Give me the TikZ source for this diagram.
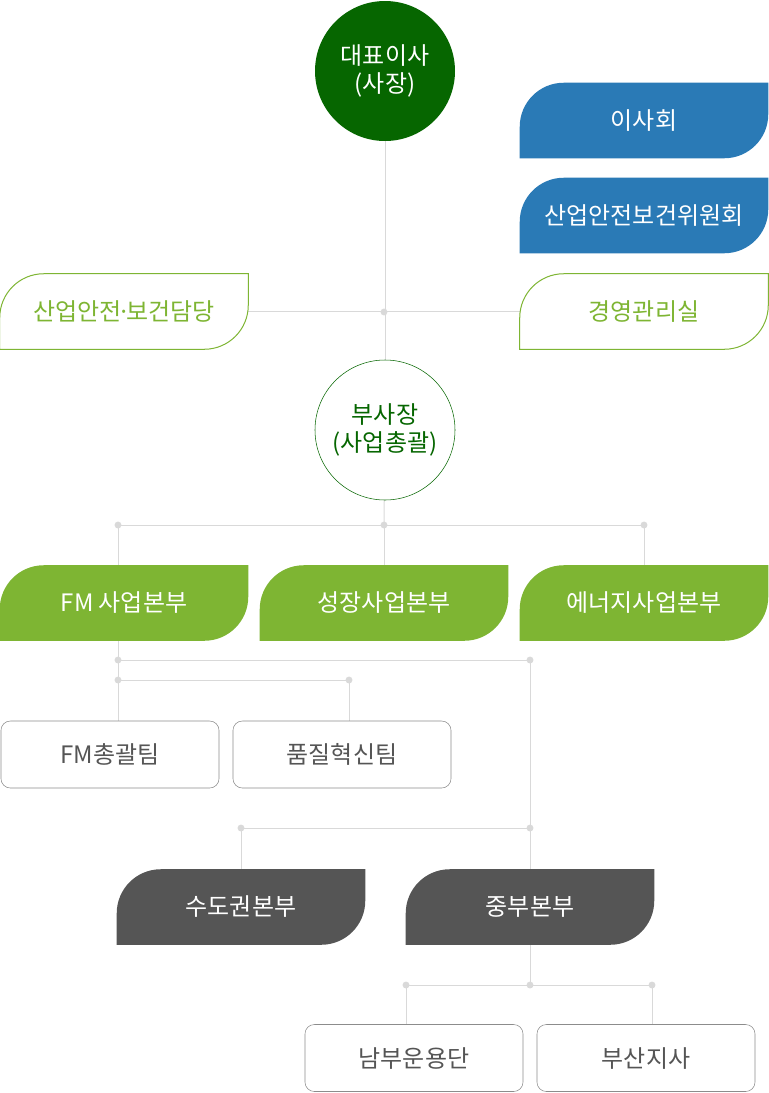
\documentclass[tikz,border=0pt]{standalone}
\usepackage{fontspec}
\setmainfont{Noto Sans CJK KR}
\usetikzlibrary{positioning,backgrounds}

\definecolor{ceogreen}{HTML}{066600}
\definecolor{leafgreen}{HTML}{7EB533}
\definecolor{boardblue}{HTML}{2A7AB6}
\definecolor{hqgray}{HTML}{555555}
\definecolor{boxgray}{HTML}{8C8C8C}
\definecolor{linegray}{HTML}{D9D9D9}

% leaf outline: round top-left and bottom-right corners
\newcommand{\leafpath}[1]{(#1.south west) -- ([yshift=-33pt]#1.north west)
  arc[start angle=180,end angle=90,radius=33pt] -- (#1.north east)
  -- ([yshift=33pt]#1.south east) arc[start angle=0,end angle=-90,radius=33pt] -- cycle}

\tikzset{
  txt/.style={font=\fontsize{18pt}{20.5pt}\selectfont,align=center},
  boss/.style={txt,circle,minimum size=105pt,inner sep=0pt},
  leaf/.style={txt,rectangle,minimum width=186pt,minimum height=56.25pt,inner sep=0pt},
  team/.style={txt,rectangle,rounded corners=7pt,draw=boxgray,fill=white,text=hqgray,
    minimum width=163.5pt,minimum height=50.25pt,inner sep=0pt},
  link/.style={draw=linegray,line width=0.75pt},
  dot/.style={fill=linegray}
}

\begin{document}
\begin{tikzpicture}[x=0.75pt,y=-0.75pt]
  \useasboundingbox (0,0) rectangle (768,1093);

  % top management
  \node[boss,fill=ceogreen,text=white] (ceo) at (385,71) {대표이사\\(사장)};
  \node[boss,draw=ceogreen,fill=white,text=ceogreen] (vp) at (385,430) {부사장\\(사업총괄)};

  \node[leaf,text=white] (board) at (644,120.5) {이사회};
  \node[leaf,text=white] (committee) at (644,215.5) {산업안전보건위원회};
  \node[leaf,text=leafgreen] (mgmt) at (644,311.5) {경영관리실};
  \node[leaf,text=leafgreen] (safety) at (124,311.5) {산업안전{\kern-0.17em·\kern-0.17em}보건담당};

  % business divisions
  \node[leaf,text=white] (fm) at (124,603) {FM 사업본부};
  \node[leaf,text=white] (growth) at (384,603) {성장사업본부};
  \node[leaf,text=white] (energy) at (644,603) {에너지사업본부};

  \node[team] (fmteam) at (110,754.5) {FM총괄팀};
  \node[team] (quality) at (342,754.5) {품질혁신팀};

  \node[leaf,text=white] (capital) at (241,907) {수도권본부};
  \node[leaf,text=white] (central) at (530,907) {중부본부};

  \node[team] (south) at (414,1058) {남부운용단};
  \node[team] (busan) at (646,1058) {부산지사};

  % junctions
  \coordinate (j0) at (384,312);
  \coordinate (j1) at (118,525);
  \coordinate (j2) at (384,525);
  \coordinate (j3) at (644,525);
  \coordinate (j4) at (118,660);
  \coordinate (j5) at (530,660);
  \coordinate (j6) at (118,680);
  \coordinate (j7) at (349,680);
  \coordinate (j8) at (241,828);
  \coordinate (j9) at (530,828);
  \coordinate (j10) at (406,985);
  \coordinate (j11) at (530,985);
  \coordinate (j12) at (652,985);

  \begin{pgfonlayer}{background}
    % connectors
    \draw[link] (ceo) -- (vp);
    \draw[link] (safety) -- (mgmt);
    \draw[link] (vp) -- (j2);
    \draw[link] (j1) -- (j3);
    \draw[link] (j1) -- (j1 |- fm.north);
    \draw[link] (j2) -- (growth);
    \draw[link] (j3) -- (energy);
    \draw[link] (j4 |- fm.south) -- (j4 |- fmteam.north);
    \draw[link] (j4) -- (j5);
    \draw[link] (j6) -- (j7) -- (j7 |- quality.north);
    \draw[link] (j5) -- (j9);
    \draw[link] (j8) -- (j9);
    \draw[link] (j8) -- (capital);
    \draw[link] (j9) -- (central);
    \draw[link] (central) -- (j11);
    \draw[link] (j10) -- (j12);
    \draw[link] (j10) -- (j10 |- south.north);
    \draw[link] (j12) -- (j12 |- busan.north);
    \foreach \j in {j0,j1,j2,j3,j4,j5,j6,j7,j8,j9,j10,j11,j12}
      \fill[dot] (\j) circle (2.6pt);

    % leaf shapes
    \fill[boardblue] \leafpath{board};
    \fill[boardblue] \leafpath{committee};
    \draw[leafgreen,fill=white,line width=0.75pt] \leafpath{mgmt};
    \draw[leafgreen,fill=white,line width=0.75pt] \leafpath{safety};
    \foreach \n in {fm,growth,energy}
      \fill[leafgreen] \leafpath{\n};
    \foreach \n in {capital,central}
      \fill[hqgray] \leafpath{\n};
  \end{pgfonlayer}
\end{tikzpicture}
\end{document}
